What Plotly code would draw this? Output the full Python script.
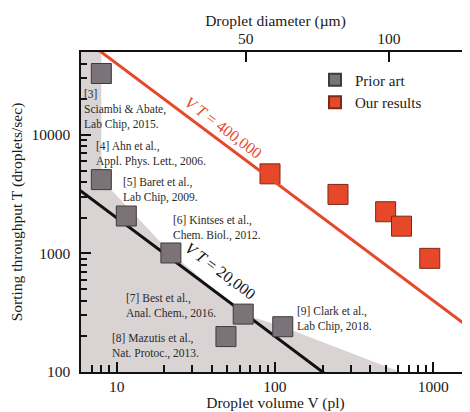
import math
import plotly.graph_objects as go

# ---------------- data ----------------
prior_labels = ["[3]", "[4]", "[5]", "[6]", "[7]", "[8]", "[9]"]
prior_V = [8.0, 8.0, 11.5, 22, 63, 49, 112]          # droplet volume (pl)
prior_T = [33000, 4200, 2070, 1010, 308, 199, 241]    # sorting throughput (droplets/s)
prior_refs = [
    "[3]<br>Sciambi & Abate,<br>Lab Chip, 2015.",
    "[4] Ahn et al.,<br>Appl. Phys. Lett., 2006.",
    "[5] Baret et al.,<br>Lab Chip, 2009.",
    "[6] Kintses et al.,<br>Chem. Biol., 2012.",
    "[7] Best et al.,<br>Anal. Chem., 2016.",
    "[8] Mazutis et al.,<br>Nat. Protoc., 2013.",
    "[9] Clark et al.,<br>Lab Chip, 2018.",
]
ours_V = [93, 250, 500, 630, 950]
ours_T = [4700, 3150, 2250, 1700, 910]

# envelope of the prior-art region (shaded)
shade_V = [1, 8.0, 8.0, 22, 63, 112, 620, 1]
shade_T = [1e6, 1e6, 4200, 1010, 308, 241, 100, 100]

VT_ours = 400000
VT_prior = 20000
line_V = [1, 5000]

diam_ticks = [50, 100]          # droplet diameter (um)
vol_ticks = [10, 100, 1000]
T_ticks = [100, 1000, 10000]

# ---------------- styles ----------------
FONT = "'Liberation Serif', 'Times New Roman', 'DejaVu Serif', serif"
TXT = "#1a1a1a"
ORANGE = "#E8482A"
GRAY_MK = "#7B7377"
SHADE = "#D9D3D3"

xr = [0.7745, 3.232]
yr = [2.0, 4.70]

fig = go.Figure()

fig.add_trace(go.Scatter(x=shade_V, y=shade_T, mode="lines", fill="toself",
                         fillcolor=SHADE, line=dict(width=0), hoverinfo="skip",
                         showlegend=False))
fig.add_trace(go.Scatter(x=line_V, y=[VT_prior / v for v in line_V], mode="lines",
                         line=dict(color="#111111", width=3), showlegend=False))
# the V T = 400,000 line is drawn on the (identical) top axis so that axis is rendered
fig.add_trace(go.Scatter(x=line_V, y=[VT_ours / v for v in line_V], mode="lines",
                         xaxis="x2", yaxis="y",
                         line=dict(color=ORANGE, width=3), showlegend=False))
fig.add_trace(go.Scatter(x=prior_V, y=prior_T, mode="markers", name="Prior art",
                         marker=dict(symbol="square", size=20, color=GRAY_MK,
                                     line=dict(color="#3f3a3c", width=1))))
fig.add_trace(go.Scatter(x=ours_V, y=ours_T, mode="markers", name="Our results",
                         marker=dict(symbol="square", size=20, color=ORANGE,
                                     line=dict(color="#7a2a18", width=1))))

# reference labels, anchored to their markers
offsets = [(-19, -36), (-7, 26), (-5, 26), (0, 25), (-119, 8), (-116, -9), (12, 8)]
for v, t, txt, (dx, dy) in zip(prior_V, prior_T, prior_refs, offsets):
    fig.add_annotation(x=math.log10(v), y=math.log10(t), text=txt, showarrow=False,
                       xanchor="left", yanchor="middle", align="left",
                       xshift=dx, yshift=dy,
                       font=dict(family=FONT, size=11.5, color="#2a2a2a"))

ang = math.degrees(math.atan((118.5) / 158.3))
fig.add_annotation(x=math.log10(46), y=math.log10(VT_ours / 46),
                   text="<i>V T</i> = 400,000", showarrow=False, textangle=ang,
                   yshift=15, xshift=2, font=dict(family=FONT, size=16, color=ORANGE))
fig.add_annotation(x=math.log10(45), y=math.log10(VT_prior / 45),
                   text="<i>V T</i> = 20,000", showarrow=False, textangle=ang,
                   yshift=25, font=dict(family=FONT, size=16, color="#111111"))

minor_x = [k * 10 ** e for e in range(0, 4) for k in range(2, 10)]
minor_y = [k * 10 ** e for e in range(2, 5) for k in range(2, 10)]

axis_common = dict(showgrid=False, zeroline=False, showline=True, linecolor="#111111",
                   linewidth=1.5, ticks="inside", ticklen=10, tickwidth=1.5,
                   tickcolor="#111111", automargin=False,
                   tickfont=dict(family=FONT, size=15.5, color=TXT))

# the page body adds an 8px offset, so the figure is 8px smaller and margins shifted
fig.update_layout(
    width=462, height=404,
    margin=dict(l=73, r=0, t=44, b=40),
    paper_bgcolor="white", plot_bgcolor="white",
    font=dict(family=FONT, color=TXT),
    xaxis=dict(type="log", range=xr, tickmode="array", tickvals=vol_ticks,
               ticktext=[str(v) for v in vol_ticks],
               minor=dict(tickmode="array", tickvals=minor_x, ticks="inside",
                          ticklen=7, tickwidth=1.5, tickcolor="#111111"),
               title=dict(text="Droplet volume V (pl)", standoff=2,
                          font=dict(family=FONT, size=15.5, color=TXT)),
               **axis_common),
    xaxis2=dict(type="log", range=xr, overlaying="x", side="top", anchor="y",
                tickmode="array",
                tickvals=[math.pi / 6 * d ** 3 / 1000 for d in diam_ticks],
                ticktext=[str(d) for d in diam_ticks],
                title=dict(text="Droplet diameter (µm)", standoff=0,
                           font=dict(family=FONT, size=15.5, color=TXT)),
                **axis_common),
    yaxis=dict(type="log", range=yr, tickmode="array", tickvals=T_ticks,
               ticktext=[str(t) for t in T_ticks], ticklabelstandoff=6,
               minor=dict(tickmode="array", tickvals=minor_y, ticks="inside",
                          ticklen=6, tickwidth=1.5, tickcolor="#111111"),
               title=dict(text="Sorting throughput T (droplets/sec)", standoff=5,
                          font=dict(family=FONT, size=15.5, color=TXT)),
               **axis_common),
    legend=dict(x=0.6015, y=0.964, xanchor="left", yanchor="top",
                bgcolor="rgba(0,0,0,0)", itemsizing="constant",
                font=dict(family=FONT, size=15, color=TXT), tracegroupgap=0),
    showlegend=True,
)

fig.write_html("out.html")
